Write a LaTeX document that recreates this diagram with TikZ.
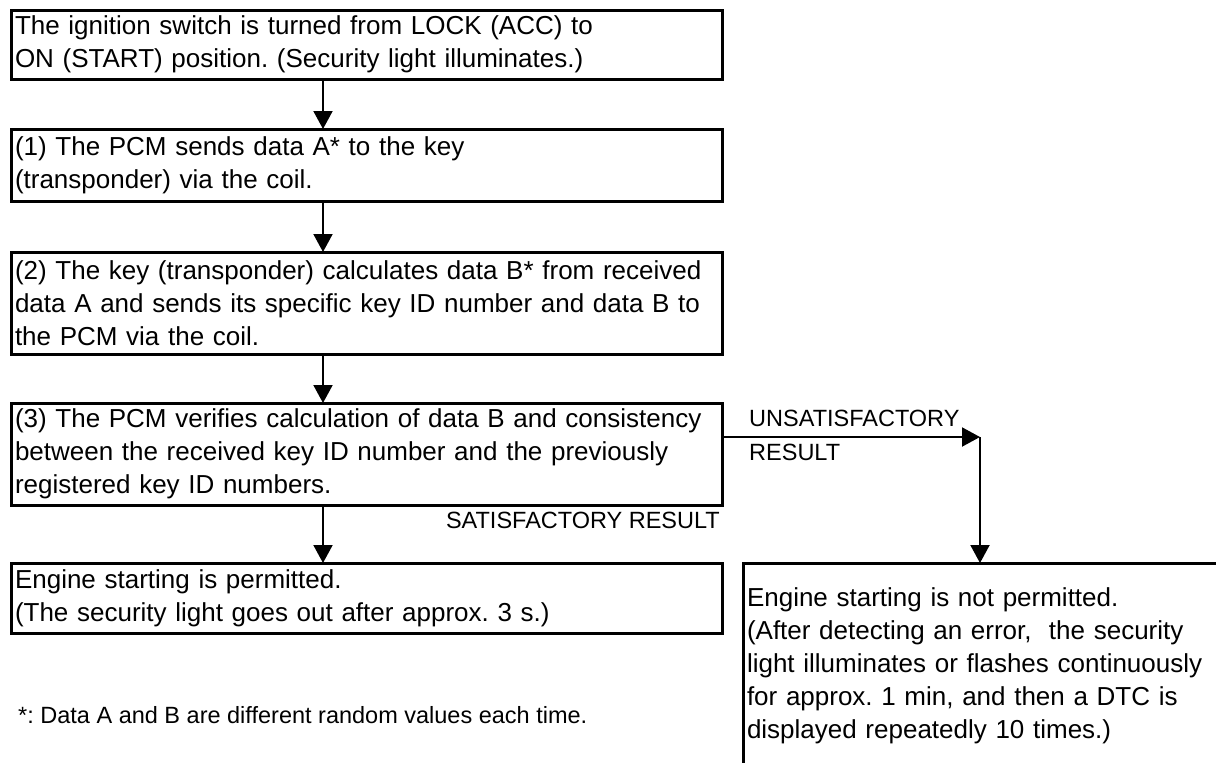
\documentclass[tikz,border=0pt]{standalone}
\usepackage{fontspec}
\setmainfont{Liberation Sans}
\usetikzlibrary{arrows.meta}
\frenchspacing
\begin{document}
\begin{tikzpicture}[x=1pt,y=-1pt,
  box/.style={draw, line width=3pt, rectangle, anchor=north west, align=left,
    inner xsep=4pt, inner ysep=0pt, outer sep=0pt, text width=703pt,
    font=\fontsize{26pt}{33pt}\selectfont},
  arr/.style={line width=2pt, -{Triangle[length=18pt,width=19pt]}},
  lbl/.style={font=\fontsize{23.5pt}{28pt}\selectfont, inner sep=0pt}]
\useasboundingbox (0,0) rectangle (1216,763);
\clip (0,0) rectangle (1216,763);

\node[box, minimum height=69pt] (b1) at (11,10)
  {The ignition switch is turned from LOCK (ACC) to\\ON (START) position. (Security light illuminates.)};
\node[box, minimum height=72pt] (b2) at (11,129)
  {(1) The PCM sends data A* to the key\\(transponder) via the coil.};
\node[box, minimum height=102pt] (b3) at (11,252)
  {(2) The key (transponder) calculates data B* from received\\data A and sends its specific key ID number and data B to\\the PCM via the coil.};
\node[box, minimum height=102pt] (b4) at (11,403)
  {(3) The PCM verifies calculation of data B and consistency\\between the received key ID number and the previously\\registered key ID numbers.};
\node[box, minimum height=70pt] (b5) at (11,563)
  {Engine starting is permitted.\\(The security light goes out after approx. 3 s.)};
\node[box, minimum height=206pt, text width=490pt] (b6) at (743,563)
  {Engine starting is not permitted.\\(After detecting an error,~ the security\\light illuminates or flashes continuously\\for approx. 1 min, and then a DTC is\\displayed repeatedly 10 times.)};

\node[lbl, anchor=base east] (sat) at (720,528) {SATISFACTORY RESULT};
\node[lbl, anchor=base west] (uns) at (749,426) {UNSATISFACTORY};
\node[lbl, anchor=base west] (res) at (749,460) {RESULT};
\node[lbl, anchor=base west] (fn) at (18,723) {*: Data A and B are different random values each time.};

\coordinate (ax) at (323,0);
\draw[arr] (b1.south -| ax) -- (b2.north -| ax);
\draw[arr] (b2.south -| ax) -- (b3.north -| ax);
\draw[arr] (b3.south -| ax) -- (b4.north -| ax);
\draw[arr] (b4.south -| ax) -- (b5.north -| ax);
\coordinate (uc) at (980,437);
\draw[arr] (b4.east |- uc) -- (uc);
\draw[arr] (uc) -- (uc |- b6.north);
\end{tikzpicture}
\end{document}
